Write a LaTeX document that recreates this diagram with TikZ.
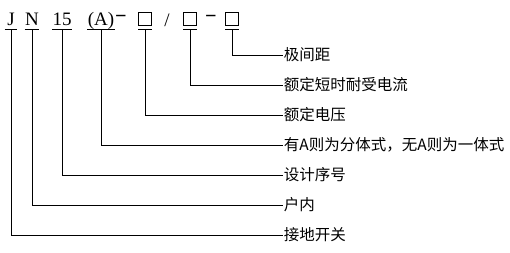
\documentclass[tikz,border=0pt]{standalone}
\usepackage{fontspec}
\setmainfont{Liberation Serif}
\newfontfamily\cjk{Noto Sans CJK SC}
\tikzset{
  every picture/.style={line width=0.8pt},
  code/.style={anchor=south, inner xsep=0pt, inner ysep=3.3pt, text depth=0pt, font=\fontsize{19}{19}\selectfont},
  sign/.style={inner sep=0pt, font=\fontsize{19}{19}\selectfont},
  sq/.style={draw, minimum size=13pt, inner sep=0pt},
  lab/.style={anchor=west, inner xsep=0.5pt, font=\cjk\fontsize{15.5}{16}\selectfont},
}
\begin{document}
\begin{tikzpicture}[x=1pt, y=-1pt]
  \useasboundingbox (0,0) rectangle (510,252);
  % type code: letters and digits, each with a short bar under it
  \foreach \n/\x/\w/\t in {j/11/12/J, n/32/10/N, nf/62/17/15, a/101/26/(A)} {
    \node[code, minimum width=\w pt] (\n) at (\x,29) {\t};
    \draw (\n.south west) -- (\n.south east);
  }
  % empty places of the code
  \foreach \n/\x in {sa/145, sb/190, sc/232} {
    \node[sq] (\n) at (\x,19) {};
    \draw ([yshift=-3.5pt]\n.south west) -- ([yshift=-3.5pt]\n.south east);
  }
  \node[sign] (d1) at (121,18) {\scalebox{1.9}[1]{-}};
  \node[sign] (sl) at (167,20) {/};
  \node[sign] (d2) at (211,18) {\scalebox{1.9}[1]{-}};
  % meanings, top to bottom
  \foreach \t [count=\i] in {极间距, 额定短时耐受电流, 额定电压, 有A则为分体式，无A则为一体式, 设计序号, 户内, 接地开关}
    \node[lab] (l\i) at (283, 25+30*\i) {\t};
  \foreach \c/\i in {sc/1, sb/2, sa/3} \draw ([yshift=-3.5pt]\c.south) |- (l\i.west);
  \foreach \c/\i in {a/4, nf/5, n/6, j/7} \draw (\c.south) |- (l\i.west);
\end{tikzpicture}
\end{document}
